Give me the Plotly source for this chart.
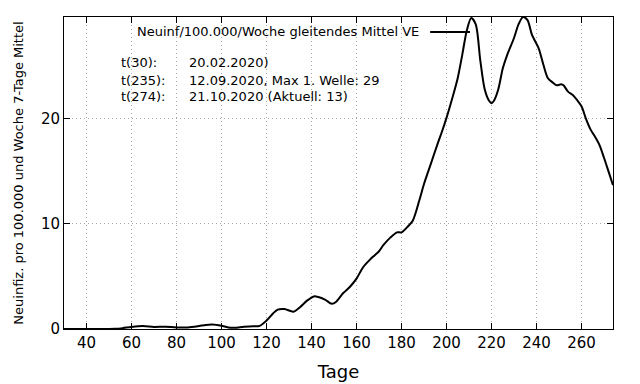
import plotly.graph_objects as go

days = [30, 40, 50, 53, 56, 60, 65, 70, 75, 80, 85, 90, 93, 96, 100, 103, 106, 110, 114, 117,
        120, 123, 125, 128, 132, 135, 138, 141, 143, 146, 149, 151, 154, 157, 160, 163, 166, 168,
        170, 172, 175, 178, 180, 183, 185, 188, 190, 193, 196, 198, 200, 203, 205, 207, 209, 211,
        213, 215, 217, 219, 220, 221, 223, 225, 227, 230, 232, 234, 236, 238, 241, 243, 245, 247,
        249, 251, 252, 254, 256, 258, 260, 262, 264, 266, 268, 270, 272, 274]
values = [0, 0, 0, 0.02, 0.08, 0.2, 0.28, 0.2, 0.22, 0.15, 0.15, 0.28, 0.38, 0.42, 0.3, 0.15, 0.12, 0.22, 0.25, 0.3,
          0.8, 1.5, 1.85, 1.9, 1.65, 2.1, 2.7, 3.1, 3.05, 2.8, 2.4, 2.6, 3.4, 4.0, 4.8, 5.9, 6.6, 7.0,
          7.4, 8.0, 8.7, 9.2, 9.2, 9.8, 10.3, 12.3, 13.8, 15.7, 17.6, 18.8, 20.1, 22.3, 23.9, 26.1, 28.4, 29.6,
          29.0, 25.6, 22.8, 21.7, 21.5, 21.7, 22.8, 24.8, 26.1, 27.7, 29.0, 29.7, 29.4, 28.0, 26.7, 25.2, 23.9, 23.5,
          23.2, 23.3, 23.2, 22.6, 22.3, 21.8, 21.2, 20.0, 19.0, 18.3, 17.5, 16.3, 15.0, 13.7]

x_ticks = [40, 60, 80, 100, 120, 140, 160, 180, 200, 220, 240, 260]
y_ticks = [0, 10, 20]

series_name = "Neuinf/100.000/Woche gleitendes Mittel VE"
info_labels = ["t(30):", "t(235):", "t(274):"]
info_texts = ["20.02.2020)", "12.09.2020, Max 1. Welle: 29", "21.10.2020 (Aktuell: 13)"]

FONT = "DejaVu Sans"

fig = go.Figure()
fig.add_trace(go.Scatter(x=days, y=values, mode="lines", name=series_name,
                         line=dict(color="black", width=2, shape="spline", smoothing=0.8),
                         showlegend=False))

axis_common = dict(showline=True, linecolor="black", linewidth=1, mirror="ticks",
                   ticks="inside", ticklen=6, tickcolor="black", showgrid=True,
                   gridcolor="#a8a8a8", griddash="1px,3px", gridwidth=1, zeroline=False,
                   tickfont=dict(family=FONT, size=15, color="black"))

fig.update_xaxes(range=[30, 274], tickvals=x_ticks, **axis_common,
                 title=dict(text="Tage", font=dict(family=FONT, size=18, color="black"), standoff=14))
fig.update_yaxes(range=[0, 29.7], tickvals=y_ticks, **axis_common,
                 title=dict(text="Neuinfiz. pro 100.000 und Woche 7-Tage Mittel",
                            font=dict(family=FONT, size=13, color="black"), standoff=14))

# legend-like entry (gnuplot style: text then line sample)
fig.add_annotation(xref="paper", yref="paper", x=0.650, y=0.952, text=series_name,
                   showarrow=False, xanchor="right", yanchor="middle",
                   font=dict(family=FONT, size=13, color="black"))
fig.add_shape(type="line", xref="paper", yref="paper", x0=0.667, x1=0.7395, y0=0.952, y1=0.952,
              line=dict(color="black", width=2))

rows_y = [0.8526, 0.798, 0.7436]
for lab, txt, yy in zip(info_labels, info_texts, rows_y):
    fig.add_annotation(xref="paper", yref="paper", x=0.1002, y=yy, text=lab, showarrow=False,
                       xanchor="left", yanchor="middle", font=dict(family=FONT, size=13, color="black"))
    fig.add_annotation(xref="paper", yref="paper", x=0.224, y=yy, text=txt, showarrow=False,
                       xanchor="left", yanchor="middle", font=dict(family=FONT, size=13, color="black"))

fig.update_layout(width=640, height=384, margin=dict(l=64, r=27, t=17, b=55, autoexpand=False),
                  plot_bgcolor="white", paper_bgcolor="white", showlegend=False)

fig.write_html("out.html", config={"displayModeBar": False},
               post_script="document.body.style.margin='0';document.body.style.padding='0';")
